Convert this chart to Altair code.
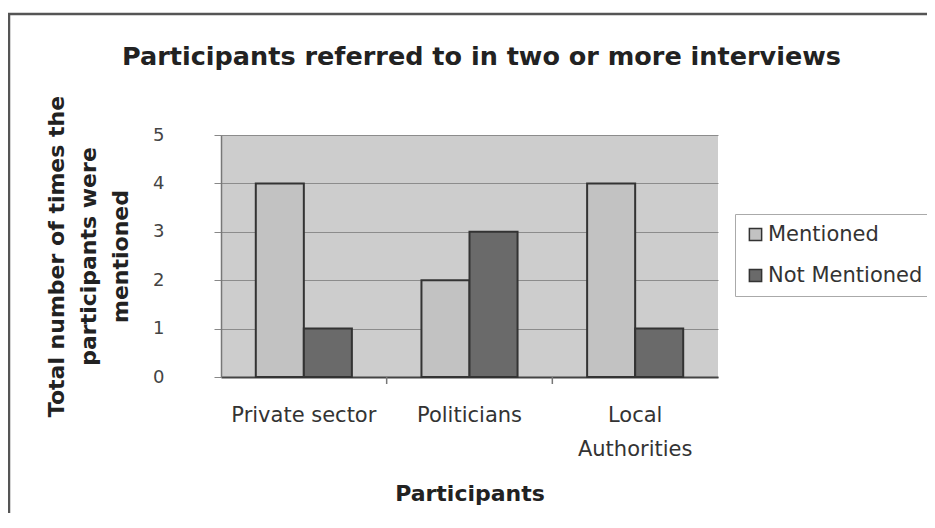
import altair as alt
import pandas as pd

title_text = "Participants referred to in two or more interviews"
categories = ["Private sector", "Politicians", "Local Authorities"]
series = ["Mentioned", "Not Mentioned"]
mentioned = [4, 2, 4]
not_mentioned = [1, 3, 1]
y_ticks = [0, 1, 2, 3, 4, 5]

rows = []
for c, m, n in zip(categories, mentioned, not_mentioned):
    rows.append({"Category": c, "Series": series[0], "Value": m})
    rows.append({"Category": c, "Series": series[1], "Value": n})
df = pd.DataFrame(rows)

FONT = "DejaVu Sans"

bars = alt.Chart(df).mark_bar(stroke="#333333", strokeWidth=2).encode(
    x=alt.X(
        "Category:N",
        sort=categories,
        scale=alt.Scale(paddingInner=0.42, paddingOuter=0.21),
        axis=alt.Axis(
            title="Participants",
            titleFont=FONT,
            titleFontSize=22,
            titleFontWeight="bold",
            titleColor="#222222",
            titlePadding=24,
            labelFont=FONT,
            labelFontSize=21,
            labelColor="#333333",
            labelAngle=0,
            labelPadding=27,
            labelLineHeight=34,
            labelExpr="datum.value == 'Local Authorities' ? ['Local', 'Authorities'] : datum.value",
            tickSize=0,
            domainColor="#444444",
            domainWidth=2,
        ),
    ),
    xOffset=alt.XOffset("Series:N", sort=series, scale=alt.Scale(paddingInner=0)),
    y=alt.Y(
        "Value:Q",
        scale=alt.Scale(domain=[0, 5]),
        axis=alt.Axis(
            values=y_ticks,
            title=["Total number of times the", "participants were", "mentioned"],
            titleFont=FONT,
            titleFontSize=22,
            titleFontWeight="bold",
            titleColor="#222222",
            titleLineHeight=32,
            titlePadding=20,
            labelFont=FONT,
            labelFontSize=18,
            labelColor="#444444",
            labelPadding=50,
            tickSize=7,
            tickColor="#888888",
            domainColor="#777777",
            domainWidth=1.5,
            grid=True,
            gridColor="#8c8c8c",
            gridWidth=1,
        ),
    ),
    color=alt.Color(
        "Series:N",
        sort=series,
        scale=alt.Scale(domain=series, range=["#c2c2c2", "#6a6a6a"]),
        legend=alt.Legend(
            title=None,
            orient="none",
            legendX=514,
            legendY=79,
            direction="vertical",
            fillColor="white",
            strokeColor="#aaaaaa",
            padding=10,
            labelFont=FONT,
            labelFontSize=21,
            labelColor="#333333",
            labelOffset=2,
            labelLimit=400,
            symbolType="square",
            symbolSize=150,
            symbolStrokeColor="#333333",
            symbolStrokeWidth=1.5,
            rowPadding=19,
        ),
    ),
)

bounds = pd.DataFrame({"b": list(range(1, len(categories)))})
ticks = alt.Chart(bounds).mark_rule(color="#777777", strokeWidth=1.5).encode(
    x=alt.X("b:Q", scale=alt.Scale(domain=[0, len(categories)]), axis=None),
    y=alt.value(242),
    y2=alt.value(249),
)

frame = alt.Chart(pd.DataFrame({"a": [0]})).mark_rect(
    fill=None, stroke="#555555", strokeWidth=2.5
).encode(
    x=alt.value(-212),
    x2=alt.value(900),
    y=alt.value(-121),
    y2=alt.value(600),
)

title = alt.Chart(pd.DataFrame({"t": [title_text]})).mark_text(
    font=FONT, fontSize=25.5, fontWeight="bold", color="#222222",
    align="center", baseline="alphabetic",
).encode(
    text="t:N",
    x=alt.value(260.5),
    y=alt.value(-70),
)

chart = (
    alt.layer(frame, title, bars, ticks)
    .resolve_scale(x="independent")
    .properties(
        width=497,
        height=242,
        autosize=alt.AutoSizeParams(type="none"),
        padding={"left": 213, "top": 127, "right": 209, "bottom": 136},
    )
    .configure(background="white")
    .configure_view(fill="#cdcdcd", stroke=None)
)

chart.save("out.html", embed_options={"renderer": "svg", "actions": False})
